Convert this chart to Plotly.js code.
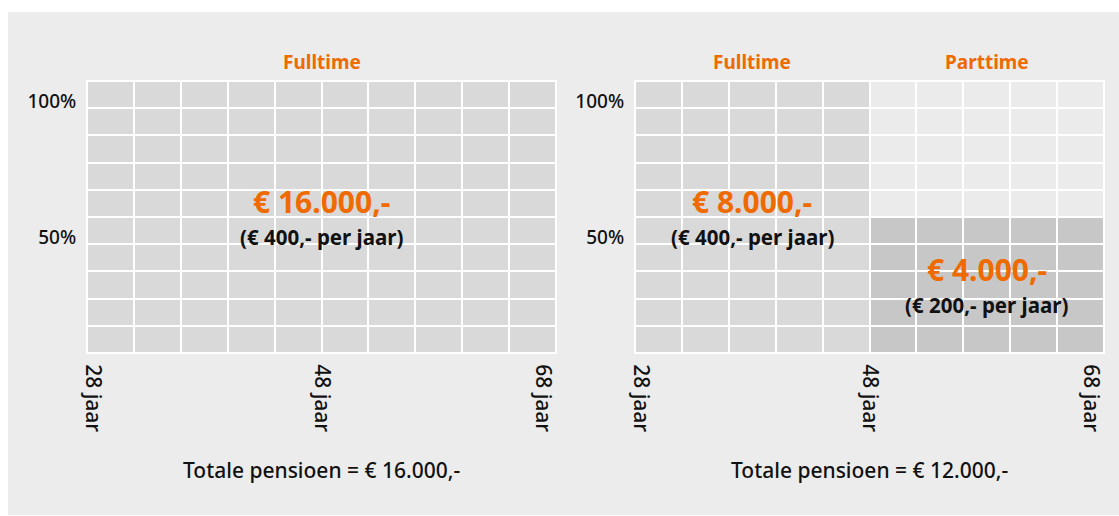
<!DOCTYPE html>
<html>
<head>
<meta charset="utf-8">
<script src="https://cdn.plot.ly/plotly-3.0.1.min.js"></script>
<style>
  html, body { margin: 0; padding: 0; background: #ffffff; }
  #chart { position: absolute; left: 8px; top: 12px; width: 1111px; height: 503px; }
</style>
</head>
<body>
<div id="chart"></div>
<script>
// ---- data ----
const blockStartAges = [28, 32, 36, 40, 44, 48, 52, 56, 60, 64]; // each block = 4 years
const blockYears = 4;
const rowLevels = [10, 20, 30, 40, 50, 60, 70, 80, 90, 100];      // 10% per row
const workTypes = ['Fulltime', 'Parttime'];
const pensionPerYear = [400, 200];                                 // € per year of work
const scenarioA_type = ['Fulltime','Fulltime','Fulltime','Fulltime','Fulltime','Fulltime','Fulltime','Fulltime','Fulltime','Fulltime'];
const scenarioA_pct  = [100, 100, 100, 100, 100, 100, 100, 100, 100, 100];
const scenarioB_type = ['Fulltime','Fulltime','Fulltime','Fulltime','Fulltime','Parttime','Parttime','Parttime','Parttime','Parttime'];
const scenarioB_pct  = [100, 100, 100, 100, 100, 50, 50, 50, 50, 50];
const xTickAges = [28, 48, 68];
const xTickText = ['28 jaar', '48 jaar', '68 jaar'];
const yTickText = ['100%', '50%'];
const totalLabel = 'Totale pensioen';

// ---- styling ----
const FONT = 'Noto Sans, Open Sans, sans-serif';
const ORANGE = '#ef6a00';
const INK = '#111111';
const cellColors = [[0, '#ebebeb'], [0.5, '#d9d9d9'], [1, '#c6c7c6']];

function euro(v) {
  const s = String(v).replace(/\B(?=(\d{3})+(?!\d))/g, '.');
  return '€ ' + s + ',-';
}

const xCenters = blockStartAges.map(a => a + blockYears / 2);
const yCenters = rowLevels.map(l => l - 5);

function buildZ(types, pcts) {
  return rowLevels.map(level => types.map((t, c) =>
    pcts[c] >= level ? 1 + workTypes.indexOf(t) : 0));
}

function periods(types, pcts) {
  const out = [];
  types.forEach((t, c) => {
    const last = out[out.length - 1];
    if (last && last.type === t) { last.end = c; }
    else out.push({ type: t, start: c, end: c, pct: pcts[c] });
  });
  out.forEach(p => {
    p.x0 = blockStartAges[p.start];
    p.x1 = blockStartAges[p.end] + blockYears;
    p.perYear = pensionPerYear[workTypes.indexOf(p.type)];
    p.amount = (p.x1 - p.x0) * p.perYear;
  });
  return out;
}

const scenarios = [
  { types: scenarioA_type, pcts: scenarioA_pct, xa: 'x', ya: 'y' },
  { types: scenarioB_type, pcts: scenarioB_pct, xa: 'x2', ya: 'y2' }
];

const traces = scenarios.map(s => ({
  type: 'heatmap',
  x: xCenters, y: yCenters,
  z: buildZ(s.types, s.pcts),
  zmin: 0, zmax: 2,
  colorscale: cellColors,
  showscale: false,
  xgap: 2, ygap: 2,
  hoverinfo: 'skip',
  xaxis: s.xa, yaxis: s.ya
}));

const annotations = [];
scenarios.forEach(s => {
  const ps = periods(s.types, s.pcts);
  let total = 0;
  ps.forEach(p => {
    total += p.amount;
    const cx = (p.x0 + p.x1) / 2;
    annotations.push({ xref: s.xa, yref: 'paper', x: cx, y: 1.07, yanchor: 'middle',
      text: '<b>' + p.type + '</b>', showarrow: false, font: { family: FONT, size: 19, color: ORANGE } });
    annotations.push({ xref: s.xa, yref: s.ya, x: cx, y: p.pct / 2, yshift: 16, yanchor: 'middle',
      text: '<b>' + euro(p.amount) + '</b>', showarrow: false, font: { family: FONT, size: 30, color: ORANGE } });
    annotations.push({ xref: s.xa, yref: s.ya, x: cx, y: p.pct / 2, yshift: -20, yanchor: 'middle',
      text: '<b>(' + euro(p.perYear) + ' per jaar)</b>', showarrow: false, font: { family: FONT, size: 20.5, color: INK } });
  });
  annotations.push({ xref: s.xa, yref: 'paper', x: 48, y: -0.43, yanchor: 'middle',
    text: totalLabel + ' = ' + euro(total), showarrow: false, font: { family: FONT, size: 21, weight: 500, color: INK } });
});

const xNudge = [0.5, 0, -1.1];
function xAxis(domain, anchor) {
  return {
    domain: domain, anchor: anchor, range: [28, 68], fixedrange: true,
    showgrid: false, zeroline: false,
    showline: true, linecolor: '#ffffff', linewidth: 1, mirror: true,
    ticks: '', tickvals: xTickAges.map((a, i) => a + xNudge[i]), ticktext: xTickText,
    ticklabelstandoff: 6,
    tickangle: 90, tickfont: { family: FONT, size: 21, weight: 500, color: INK }
  };
}
function yAxis(anchor) {
  return {
    anchor: anchor, range: [0, 100], fixedrange: true,
    showgrid: false, zeroline: false,
    showline: true, linecolor: '#ffffff', linewidth: 1, mirror: true,
    ticks: '', tickvals: [92.6, 42.4], ticktext: yTickText,
    ticklabelstandoff: 6,
    tickfont: { family: FONT, size: 19, weight: 500, color: INK }
  };
}

const layout = {
  width: 1111, height: 503,
  margin: { l: 79, r: 15, t: 69, b: 162 },
  paper_bgcolor: '#ececec',
  plot_bgcolor: '#ffffff',
  showlegend: false,
  xaxis: xAxis([0, 0.4612], 'y'),
  yaxis: yAxis('x'),
  xaxis2: xAxis([0.5388, 1], 'y2'),
  yaxis2: yAxis('x2'),
  annotations: annotations
};

Plotly.newPlot('chart', traces, layout, { displayModeBar: false, staticPlot: true });
</script>
</body>
</html>
